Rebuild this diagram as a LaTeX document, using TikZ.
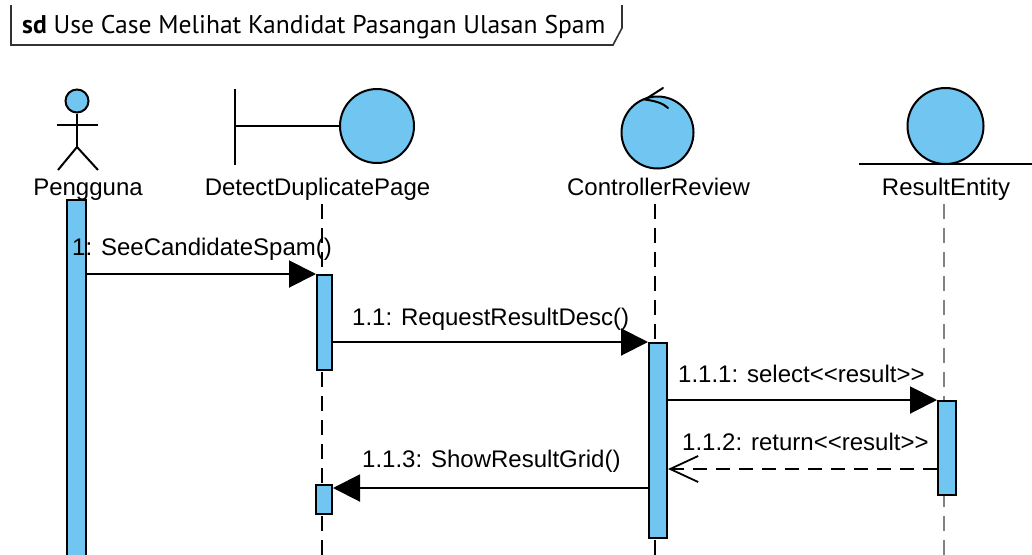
\documentclass[tikz,border=0pt]{standalone}
\usepackage{fontspec}
\setmainfont{Liberation Sans}
\newfontfamily\titlefont{PT Sans}
\usetikzlibrary{arrows.meta}
\definecolor{ublue}{RGB}{112,198,240}
\definecolor{frameg}{RGB}{50,50,50}
\definecolor{lifeg}{RGB}{130,130,130}
\begin{document}
\begin{tikzpicture}[x=1pt,y=-1pt,
  lab/.style={font=\fontsize{24}{28}\selectfont, inner sep=0pt, anchor=base},
  mlab/.style={font=\fontsize{24}{28}\selectfont, inner sep=0pt, anchor=base west},
  actbar/.style={draw=black, line width=2pt, fill=ublue, inner sep=0pt, rectangle},
  headc/.style={circle, draw=black, line width=2pt, fill=ublue, inner sep=0pt},
  sym/.style={line width=2pt, black},
  life/.style={line width=2.3pt, dash pattern=on 15pt off 9pt},
  lifeent/.style={line width=1.6pt, lifeg, dash pattern=on 15pt off 9pt},
  msg/.style={line width=2pt, -{Triangle[length=27pt,width=27pt]}},
  ret/.style={line width=1.8pt, dash pattern=on 14pt off 9pt, -{Straight Barb[length=28pt,width=26pt,line width=1.8pt]}}
]
\fill[white] (0,0) rectangle (1032,554);
\useasboundingbox (0,0) rectangle (1032,554);

% title frame
\draw[frameg, line width=1.6pt] (11,5) -- (11,45) -- (613,45) -- (622,28) -- (622,5);
\node[anchor=base west, inner sep=0pt, font=\titlefont\fontsize{25.6}{30}\selectfont] (title) at (22,33) {\textbf{sd} Use Case Melihat Kandidat Pasangan Ulasan Spam};

% actor Pengguna
\node[headc, minimum size=23pt] (head) at (77,101) {};
\draw[sym] (head.south) -- (77,147) coordinate (hip);
\draw[sym] (57,125) -- (98,125);
\draw[sym] (58,170) -- (hip) -- (98,170);
\node[lab] (lp) at (88,195) {Pengguna};

% boundary DetectDuplicatePage
\node[headc, minimum size=74pt] (bnd) at (377,126) {};
\draw[sym] (235,89) -- (235,165);
\draw[sym] (235,126) -- (bnd.west);
\node[lab] (ld) at (317.5,195) {DetectDuplicatePage};

% control ControllerReview
\node[headc, minimum size=72pt] (ctl) at (657.5,132.5) {};
\draw[sym, line cap=round] (663,88) -- (645,99.5) .. controls (655,101) and (663,103) .. (668,108);
\node[lab] (lc) at (658.5,195) {ControllerReview};

% entity ResultEntity
\node[headc, minimum size=76pt] (ent) at (945.5,126) {};
\draw[sym] (859,164) -- (1040,164);
\node[lab] (le) at (946,195) {ResultEntity};

% lifelines
\draw[life] (322,204) -- (322,560);
\draw[life] (655,204) -- (655,560);
\draw[lifeent] (944,204) -- (944,560);

% activation bars
\node[actbar, minimum width=19pt, minimum height=380pt] (pb) at (76.5,390) {};
\node[actbar, minimum width=15pt, minimum height=95pt] (db1) at (324.5,322.5) {};
\node[actbar, minimum width=16pt, minimum height=29pt] (db2) at (324,499.5) {};
\node[actbar, minimum width=18pt, minimum height=195pt] (cb) at (658,440.5) {};
\node[actbar, minimum width=18pt, minimum height=94pt] (rb) at (947,448) {};

% messages
\coordinate (r2) at (947,469);
\coordinate (m3) at (658,488);
\draw[msg] (pb.east |- db1.north) -- (db1.north west);
\draw[msg] (db1.east |- cb.north) -- (cb.north west);
\draw[msg] (cb.east |- rb.north) -- (rb.north west);
\draw[ret] (rb.west |- r2) -- (cb.east |- r2);
\draw[msg] (cb.west |- m3) -- (db2.east |- m3);

% message labels
\node[mlab] (t1) at (72,255) {1: SeeCandidateSpam()};
\node[mlab] (t2) at (352,325) {1.1: RequestResultDesc()};
\node[mlab] (t3) at (678,382) {1.1.1: select<{}<result>{}>};
\node[mlab] (t4) at (682,450) {1.1.2: return<{}<result>{}>};
\node[mlab] (t5) at (362,467) {1.1.3: ShowResultGrid()};
\end{tikzpicture}
\end{document}
